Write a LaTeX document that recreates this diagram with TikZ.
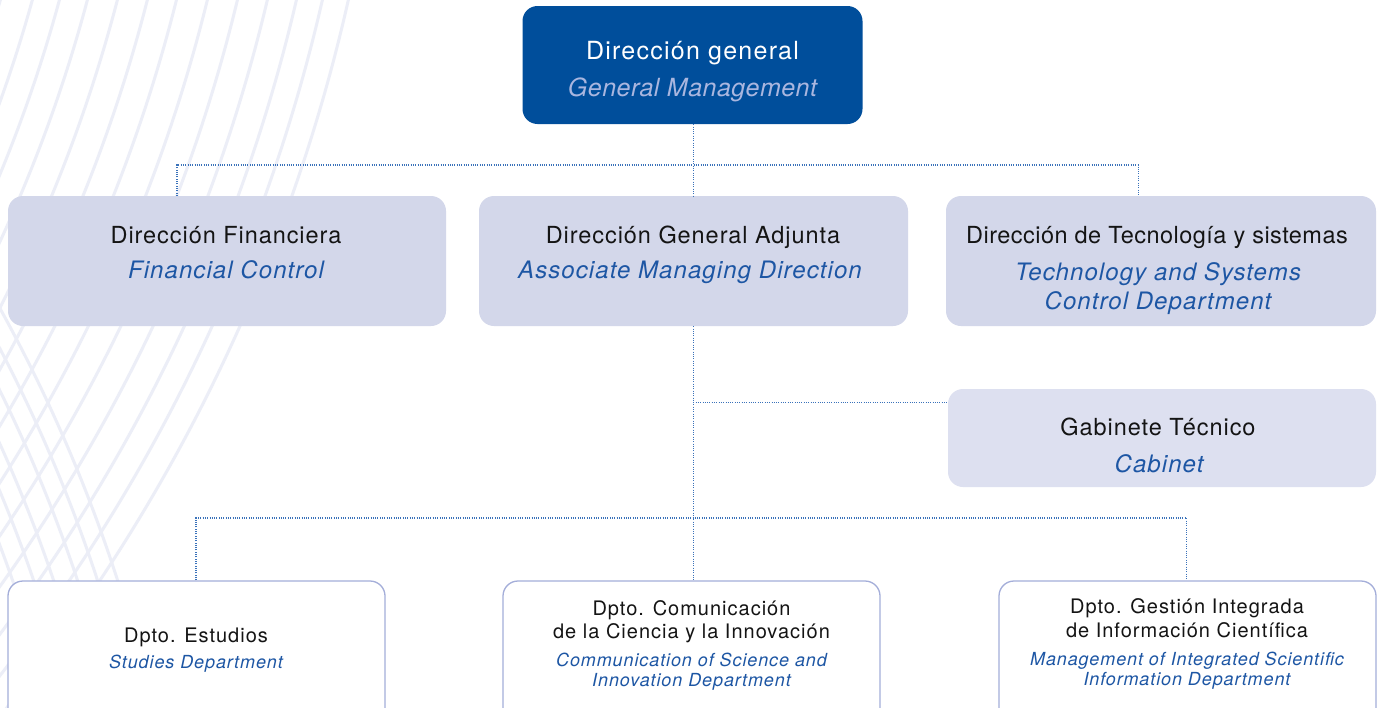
\documentclass[tikz,border=0pt]{standalone}
\usepackage{fontspec}
\setmainfont{TeX Gyre Heros}[LetterSpace=4]
\definecolor{gmblue}{HTML}{004E9B}
\definecolor{gmital}{HTML}{A9B6DF}
\definecolor{lvltwo}{HTML}{D3D7EA}
\definecolor{gabfill}{HTML}{DDE0F0}
\definecolor{txtblue}{HTML}{1D56A4}
\definecolor{txtblack}{HTML}{141414}
\definecolor{bord}{HTML}{A4AED9}
\definecolor{arccol}{HTML}{ECEEF7}
\definecolor{conncol}{HTML}{3A72BA}
\newcommand\fgm{\fontsize{25}{30}\selectfont\addfontfeature{LetterSpace=5}}
\newcommand\fgmit{\fontsize{25}{30}\selectfont\itshape\addfontfeature{LetterSpace=2}}
\newcommand\fmid{\fontsize{23.5}{28}\selectfont\addfontfeature{LetterSpace=4}}
\newcommand\fmidit{\fontsize{24}{28}\selectfont\itshape\addfontfeature{LetterSpace=4.5}}
\newcommand\fbot{\fontsize{20}{24}\selectfont\addfontfeature{LetterSpace=5}}
\newcommand\fbotit{\fontsize{18}{22}\selectfont\itshape\addfontfeature{LetterSpace=5}}
\begin{document}
\begin{tikzpicture}[x=1pt,y=-1pt,
  gmbox/.style={fill=gmblue, rounded corners=15pt, inner sep=0pt},
  midbox/.style={fill=lvltwo, rounded corners=15pt, inner sep=0pt},
  gabbox/.style={fill=gabfill, rounded corners=15pt, inner sep=0pt},
  botbox/.style={fill=white, draw=bord, line width=1.3pt, rounded corners=15pt, inner sep=0pt},
  rom/.style={anchor=base, inner sep=0pt, text=txtblack},
  ital/.style={anchor=base, inner sep=0pt, text=txtblue},
  conn/.style={draw=conncol, line width=1.1pt, dash pattern=on 1pt off 1.3pt},
  arcline/.style={draw=arccol, line width=3pt}]
\useasboundingbox (0,0) rectangle (1378,707);
\clip (0,0) rectangle (1378,707);
\fill[white] (0,0) rectangle (1378,707);
% background arcs
\foreach \rr in {1410.8,1441.6,1467.7,1494.7,1523.7,1552.7,1580.9,1610.9,1640.1,1669.2,1697.5,1722.8,1748.1}{
  \draw[arcline] (-1357,-386) circle[radius=\rr pt];
}
\foreach \rr in {1449.4,1469.3,1488.2,1510.9,1529.9,1549.0}{
  \draw[arcline] (-1357,1056) circle[radius=\rr pt];
}
% boxes
\node[gmbox, minimum width=340pt, minimum height=118pt] (gm) at (692.5,65) {};
\node[midbox, minimum width=438pt, minimum height=130pt] (fin) at (227,261) {};
\node[midbox, minimum width=429pt, minimum height=130pt] (adj) at (693.5,261) {};
\node[midbox, minimum width=430pt, minimum height=130pt] (tec) at (1161,261) {};
\node[gabbox, minimum width=428pt, minimum height=98pt] (gab) at (1162,438) {};
\node[botbox, minimum width=377pt, minimum height=150pt] (est) at (196.5,656) {};
\node[botbox, minimum width=377pt, minimum height=150pt] (com) at (691.5,656) {};
\node[botbox, minimum width=377pt, minimum height=150pt] (ges) at (1187.5,656) {};
% texts
\node[rom, text=white, font=\fgm] (gm1) at (692.5,59) {Dirección general};
\node[ital, text=gmital, font=\fgmit] (gm2) at (692.5,96) {General Management};
\node[rom, font=\fmid] (fin1) at (226,243) {Dirección Financiera};
\node[ital, font=\fmidit] (fin2) at (226,278.5) {Financial Control};
\node[rom, font=\fmid] (adj1) at (693,243.3) {Dirección General Adjunta};
\node[ital, font=\fmidit] (adj2) at (690,278.5) {Associate Managing Direction};
\node[rom, font=\fmid\addfontfeature{LetterSpace=2}] (tec1) at (1157,243.3) {Dirección de Tecnología y sistemas};
\node[ital, font=\fmidit] (tec2) at (1158,280) {Technology and Systems};
\node[ital, font=\fmidit] (tec3) at (1158,309.3) {Control Department};
\node[rom, font=\fmid] (gab1) at (1158,435) {Gabinete Técnico};
\node[ital, font=\fmidit] (gab2) at (1159,472) {Cabinet};
\node[rom, font=\fbot] (est1) at (196,642) {Dpto. Estudios};
\node[ital, font=\fbotit] (est2) at (196,668) {Studies Department};
\node[rom, font=\fbot] (com1) at (691.5,615) {Dpto. Comunicación};
\node[rom, font=\fbot] (com2) at (691.5,638) {de la Ciencia y la Innovación};
\node[ital, font=\fbotit] (com3) at (691.5,666) {Communication of Science and};
\node[ital, font=\fbotit] (com4) at (691.5,686) {Innovation Department};
\node[rom, font=\fbot] (ges1) at (1187,613) {Dpto. Gestión Integrada};
\node[rom, font=\fbot] (ges2) at (1187,637) {de Información Científica};
\node[ital, font=\fbotit] (ges3) at (1187,665) {Management of Integrated Scientific};
\node[ital, font=\fbotit] (ges4) at (1187,685) {Information Department};
% connectors
\coordinate (tbL) at (177,165);
\coordinate (tbR) at (1138.3,165);
\coordinate (gj) at (693.3,402.5);
\coordinate (lbL) at (196,518);
\coordinate (lbR) at (1186.7,518);
\draw[conn] (gm.south -| gj) -- (adj.north -| gj);
\draw[conn] (fin.north -| tbL) -- (tbL) -- (tbR) -- (tec.north -| tbR);
\draw[conn] (adj.south -| gj) -- (com.north -| gj);
\draw[conn] (gj) -- (gj -| gab.west);
\draw[conn] (est.north -| lbL) -- (lbL) -- (lbR) -- (ges.north -| lbR);
\end{tikzpicture}
\end{document}
